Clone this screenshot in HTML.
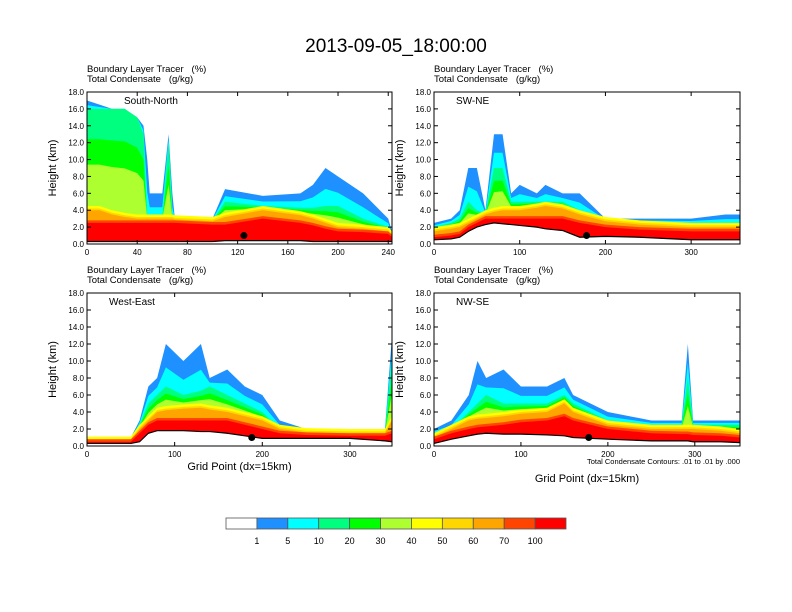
<!DOCTYPE html>
<html><head><meta charset="utf-8"><style>
body{margin:0;background:#fff;}
svg{display:block;font-family:"Liberation Sans",sans-serif;}
text{white-space:pre;}
</style></head><body>
<svg id="c" width="792" height="612">
<text x="396" y="52" font-size="19" text-anchor="middle">2013-09-05_18:00:00</text>
</svg>
<script>
const panelNames=["South-North","SW-NE","West-East","NW-SE"];
const xMax=[243,357,348,352];
const xTicks=[[0,40,80,120,160,200,240],[0,100,200,300],[0,100,200,300],[0,100,200,300]];
const yTicks=[0,2,4,6,8,10,12,14,16,18];
const dotX=[125,178,188,178];
const p1x=[0,10,20,30,40,45,48,50,60,65,68,70,100,110,140,170,180,190,200,220,240,243];
const p1blue=[17,16.5,16,16,15,14,10,6,6,13,6,3,3,6.5,5.7,6,7,9,8,6,3,1.5];
const p1green=[16,16,16,16,15,13,3,3,3,12,3,3,2.8,5,4.5,4.3,4.3,4.5,4.5,3,2,1];
const p1orange=[4,4,3.5,3.2,3,3,3,3,3,3,3,2.9,2.7,3.2,4,3.4,3,2.5,2,1.8,1.5,1];
const p1red=[2.5,2.5,2.5,2.5,2.5,2.5,2.5,2.5,2.5,2.5,2.5,2.5,2.3,2.3,3,2.5,2.2,1.8,1.5,1.4,1.2,0.8];
const p1terr=[0.3,0.3,0.3,0.3,0.3,0.3,0.3,0.3,0.3,0.3,0.3,0.3,0.3,0.4,0.4,0.4,0.3,0.3,0.3,0.3,0.3,0.3];
const p2x=[0,20,30,40,50,60,70,80,90,100,120,130,150,170,200,240,300,340,357];
const p2blue=[2.5,3,4,9,9,4,13,13,6,7,6,7,6,6,3,3,3,3.5,3.5];
const p2green=[2,2.5,3,5,4,3.5,9,9,5,5,5,5,5,4,2.8,2.6,2.5,2.5,2.5];
const p2orange=[1.5,1.8,2,2.5,3,3.5,3.8,4,4,4,4.3,4.5,4.2,3.5,2.7,2.3,2,2,2];
const p2red=[0.8,1,1.2,2,2.5,3,3,3,3,3,3,3,3,2.5,2,1.7,1.5,1.5,1.5];
const p2terr=[0.5,0.6,0.8,1.5,2,2.3,2.5,2.4,2.3,2.2,2,1.8,1.6,0.8,0.9,0.8,0.5,0.5,0.5];
const p3x=[0,50,60,70,80,90,110,130,140,160,180,200,220,250,300,340,348];
const p3blue=[1,1,3,7,8,12,10,12,8,9,7,6,3,2,2,2,13];
const p3green=[0.8,0.8,2.5,5,6,7,6,6.5,7,6,5,4,2,1.8,1.7,1.7,10];
const p3orange=[0.6,0.6,2,3,4,4.2,4.4,4.5,4.3,4,3.5,3,2,1.6,1.5,1.5,3];
const p3red=[0.5,0.5,1.5,2.5,3,3,3,3,3,3,2.5,2,1.5,1.3,1.2,1.2,1.5];
const p3terr=[0.3,0.3,0.5,1.5,1.8,1.8,1.8,1.7,1.7,1.5,1.2,0.9,0.9,0.9,0.9,0.6,0.5];
const p4x=[0,20,40,50,60,80,100,130,150,160,200,250,285,292,298,330,352];
const p4blue=[2,3,6,10,8,9,7,7,8,6,4,3,3,12,3,3,3];
const p4green=[1.5,2,4,5,6,5,5,5,6,5,3,2.5,2.5,8,2.5,2.5,2.5];
const p4orange=[1,2,3,3.2,3.3,3.5,3.8,4,5,4,2.5,2,2,2,2,1.8,1.5];
const p4red=[0.8,1.5,2,2.2,2.3,2.5,2.8,3,3.5,3,2,1.5,1.4,1.4,1.3,1.2,1];
const p4terr=[0.3,0.8,1.2,1.4,1.5,1.4,1.4,1.3,1.2,1,0.8,0.6,0.6,0.6,0.5,0.5,0.4];
const cbLabels=["1","5","10","20","30","40","50","60","70","100"];
const cbColors=["#ffffff","#1e90ff","#00ffff","#00ff7f","#00ff00","#adff2f","#ffff00","#ffd700","#ffa500","#ff4500","#ff0000"];

const P=[{d:[p1x,p1blue,p1green,p1orange,p1red,p1terr]},{d:[p2x,p2blue,p2green,p2orange,p2red,p2terr]},{d:[p3x,p3blue,p3green,p3orange,p3red,p3terr]},{d:[p4x,p4blue,p4green,p4orange,p4red,p4terr]}];
const boxes=[[87,92,392,244],[434,92,740,244],[87,293,392,446],[434,293,740,446]];
const svg=document.getElementById('c');
const NS='http://www.w3.org/2000/svg';
function mk(t,a,p){const e=document.createElementNS(NS,t);for(const k in a)e.setAttribute(k,a[k]);(p||svg).appendChild(e);return e;}
P.forEach((p,i)=>{
  const [x0,y0,x1,y1]=boxes[i];
  const sx=v=>x0+(x1-x0)*v/xMax[i];
  const sy=v=>y1-(y1-y0)*v/18;
  const g=mk('g',{});
  
  
  const [xs,bl,gr,or,rd,te]=p.d;
  const layers=[[bl,'#1e90ff'],[bl.map((v,j)=>gr[j]+(v-gr[j])*0.45),'#00ffff'],[gr,'#00ff7f'],[gr.map((v,j)=>or[j]+(v-or[j])*0.7),'#00ff00'],[gr.map((v,j)=>or[j]+(v-or[j])*0.45),'#adff2f'],[or.map((v,j)=>v+0.5),'#ffff00'],[or.map((v,j)=>v+0.2),'#ffd700'],[or,'#ffa500'],[rd.map((v,j)=>v+0.3),'#ff4500'],[rd,'#ff0000']];
  layers.forEach(([arr,col],k)=>{
    let d='M'+sx(xs[0])+','+sy(te[0]);
    xs.forEach((xv,j)=>d+=' L'+sx(xv)+','+sy(Math.max(arr[j],te[j])));
    for(let j=xs.length-1;j>=0;j--)d+=' L'+sx(xs[j])+','+sy(te[j]);
    const e=mk('path',{d:d+'Z',fill:col},g);
    
    
  });
  let td='M'+sx(xs[0])+','+sy(te[0]);xs.forEach((xv,j)=>td+=' L'+sx(xv)+','+sy(te[j]));
  const tl=mk('path',{d:td,fill:'none',stroke:'#000','stroke-width':1.2},g);
  
  const dot=mk('circle',{cx:sx(dotX[i]),cy:sy(1),r:3.5,fill:'#000'},g);
  
  const fr=mk('rect',{x:x0,y:y0,width:x1-x0,height:y1-y0,fill:'none',stroke:'#000'},g);
  
  yTicks.forEach(v=>{
    mk('line',{x1:x0,x2:x0+4,y1:sy(v),y2:sy(v),stroke:'#000'},g);
    mk('line',{x1:x1,x2:x1-4,y1:sy(v),y2:sy(v),stroke:'#000'},g);
    const t=mk('text',{x:x0-3,y:sy(v)+3,'font-size':8,'text-anchor':'end'},g);t.textContent=v.toFixed(1);
    
  });
  xTicks[i].forEach(v=>{
    mk('line',{x1:sx(v),x2:sx(v),y1:y1,y2:y1-4,stroke:'#000'},g);
    mk('line',{x1:sx(v),x2:sx(v),y1:y0,y2:y0+4,stroke:'#000'},g);
    const t=mk('text',{x:sx(v),y:y1+11,'font-size':8,'text-anchor':'middle'},g);t.textContent=v;
    
  });
  const nm=mk('text',{x:x0+(i==0?37:22),y:y0+12,'font-size':10},g);nm.textContent=panelNames[i];
  
  const h1=mk('text',{x:x0,y:y0-20,'font-size':9.5},g);h1.textContent='Boundary Layer Tracer   (%)';
  
  const h2=mk('text',{x:x0,y:y0-10,'font-size':9.5},g);h2.textContent='Total Condensate   (g/kg)';
  
  const yl=mk('text',{x:0,y:0,'font-size':11,'text-anchor':'middle',transform:'translate('+(x0-31)+','+((y0+y1)/2)+') rotate(-90)'},g);yl.textContent='Height (km)';
  
  if(i>=2){const xl=mk('text',{x:(x0+x1)/2,y:i==2?470:482,'font-size':11,'text-anchor':'middle'},g);xl.textContent='Grid Point (dx=15km)';
  }
});
const note=mk('text',{x:740,y:464,'font-size':7.5,'text-anchor':'end'});note.textContent='Total Condensate Contours: .01 to .01 by .000';

const cb=mk('g',{});

const cw=340/cbColors.length;
cbColors.forEach((c,k)=>{
  const r=mk('rect',{x:226+k*cw,y:518,width:cw,height:11,fill:c,stroke:'#555','stroke-width':0.8},cb);
  
});
cbLabels.forEach((l,k)=>{
  const t=mk('text',{x:226+(k+1)*cw,y:544,'font-size':9,'text-anchor':'middle'},cb);t.textContent=l;
  
});
</script>
</body></html>
